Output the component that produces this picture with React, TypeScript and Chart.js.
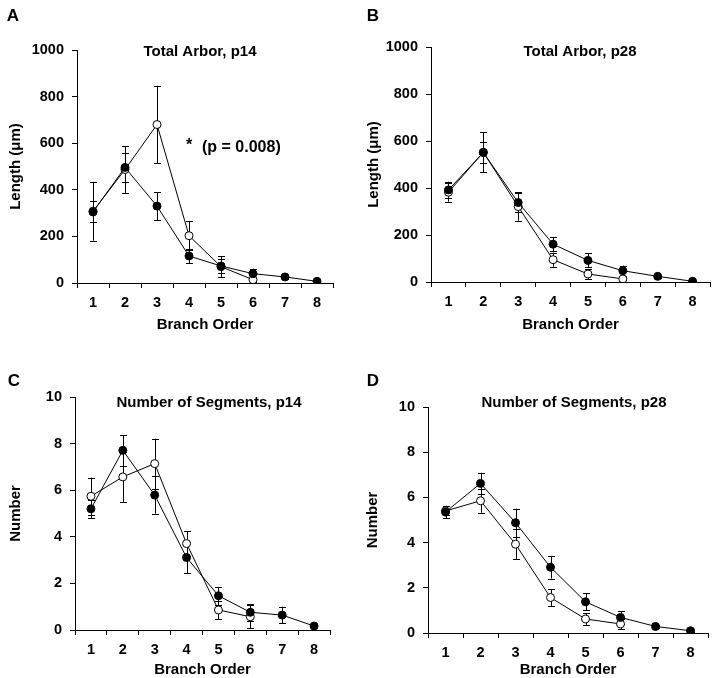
import React, { useEffect, useRef } from "react";
import { Chart, registerables } from "chart.js";
Chart.register(...registerables);

// ---------- data ----------
const branchOrders = ["1", "2", "3", "4", "5", "6", "7", "8"];

const arborP14Filled = [305, 496, 330, 116, 73, 40, 26, 7];
const arborP14FilledErr = [45, 63, 60, 32, 30, 22, 8, 3];
const arborP14Open = [308, 487, 680, 203, 70, 14, null, null];
const arborP14OpenErr = [126, 100, 167, 63, 45, 8, null, null];

const arborP28Filled = [392, 551, 338, 161, 92, 48, 24, 3];
const arborP28FilledErr = [35, 43, 40, 30, 30, 22, 6, 2];
const arborP28Open = [382, 552, 321, 95, 34, 13, null, null];
const arborP28OpenErr = [40, 86, 60, 30, 20, 6, null, null];

const segP14Filled = [5.2, 7.71, 5.79, 3.11, 1.47, 0.76, 0.64, 0.17];
const segP14FilledErr = [0.4, 0.65, 0.8, 0.68, 0.38, 0.36, 0.36, 0.05];
const segP14Open = [5.74, 6.57, 7.14, 3.71, 0.86, 0.57, null, null];
const segP14OpenErr = [0.8, 1.07, 1.07, 0.53, 0.39, 0.5, null, null];

const segP28Filled = [5.35, 6.62, 4.88, 2.91, 1.38, 0.69, 0.29, 0.1];
const segP28FilledErr = [0.28, 0.47, 0.62, 0.5, 0.38, 0.27, 0.08, 0.04];
const segP28Open = [5.4, 5.85, 3.93, 1.57, 0.62, 0.4, null, null];
const segP28OpenErr = [0.2, 0.53, 0.65, 0.37, 0.26, 0.22, null, null];

const FONT = "'Liberation Sans', Arial, Helvetica, sans-serif";

type Panel = {
  letter: string;
  title: string;
  yTitle: string;
  yMax: number;
  yStep: number;
  filled: (number | null)[];
  filledErr: (number | null)[];
  open: (number | null)[];
  openErr: (number | null)[];
  left: number;
  top: number;
  area: { L: number; R: number; T: number; B: number };
  yTitleX: number;
  xTitleY: number;
  titlePos: { x: number; y: number };
  letterPos: { x: number; y: number };
  note?: { text: string; xIndex: number; yValue: number };
};

const W = 360;
const H = 339;

const panels: Panel[] = [
  {
    letter: "A",
    title: "Total Arbor, p14",
    yTitle: "Length (\u03bcm)",
    yMax: 1000,
    yStep: 200,
    filled: arborP14Filled,
    filledErr: arborP14FilledErr,
    open: arborP14Open,
    openErr: arborP14OpenErr,
    left: 0,
    top: 0,
    area: { L: 77, R: 333, T: 50, B: 283 },
    yTitleX: 16,
    xTitleY: 325,
    titlePos: { x: 200, y: 52 },
    letterPos: { x: 13, y: 16 },
    note: { text: "(p = 0.008)", xIndex: 3, yValue: 580 },
  },
  {
    letter: "B",
    title: "Total Arbor, p28",
    yTitle: "Length (\u03bcm)",
    yMax: 1000,
    yStep: 200,
    filled: arborP28Filled,
    filledErr: arborP28FilledErr,
    open: arborP28Open,
    openErr: arborP28OpenErr,
    left: 360,
    top: 0,
    area: { L: 71, R: 350, T: 47, B: 282 },
    yTitleX: 14,
    xTitleY: 325,
    titlePos: { x: 220, y: 52 },
    letterPos: { x: 13, y: 16 },
  },
  {
    letter: "C",
    title: "Number of Segments, p14",
    yTitle: "Number",
    yMax: 10,
    yStep: 2,
    filled: segP14Filled,
    filledErr: segP14FilledErr,
    open: segP14Open,
    openErr: segP14OpenErr,
    left: 0,
    top: 339,
    area: { L: 75, R: 330, T: 58, B: 291 },
    yTitleX: 16,
    xTitleY: 331,
    titlePos: { x: 209, y: 64 },
    letterPos: { x: 14, y: 42 },
  },
  {
    letter: "D",
    title: "Number of Segments, p28",
    yTitle: "Number",
    yMax: 10,
    yStep: 2,
    filled: segP28Filled,
    filledErr: segP28FilledErr,
    open: segP28Open,
    openErr: segP28OpenErr,
    left: 360,
    top: 339,
    area: { L: 68, R: 348, T: 68, B: 294 },
    yTitleX: 13,
    xTitleY: 331,
    titlePos: { x: 214, y: 64 },
    letterPos: { x: 13, y: 42 },
  },
];

const TITLE_LH = 18; // 15px * 1.2

function PanelChart({ p }: { p: Panel }) {
  const ref = useRef<HTMLCanvasElement | null>(null);
  useEffect(() => {
    if (!ref.current) return;
    const { L, R, T, B } = p.area;
    const padLeft = p.yTitleX - TITLE_LH / 2;
    const yWidth = L - padLeft;
    const xBottom = p.xTitleY + TITLE_LH / 2;
    const xHeight = xBottom - B;
    const padBottom = H - xBottom;

    const errorBars = {
      id: "errorBars",
      beforeDatasetsDraw(chart: any) {
        const ctx = chart.ctx;
        const ys = chart.scales.y;
        const sets = [
          { idx: 0, err: p.filledErr },
          { idx: 1, err: p.openErr },
        ];
        ctx.save();
        ctx.strokeStyle = "#000";
        ctx.lineWidth = 1;
        sets.forEach(({ idx, err }) => {
          const meta = chart.getDatasetMeta(idx);
          const data = chart.data.datasets[idx].data as (number | null)[];
          meta.data.forEach((pt: any, i: number) => {
            const v = data[i];
            const e = err[i];
            if (v == null || e == null) return;
            const x = Math.round(pt.x) + 0.5;
            const yTop = ys.getPixelForValue(v + e);
            const yBot = ys.getPixelForValue(Math.max(0, v - e));
            ctx.beginPath();
            ctx.moveTo(x, yTop);
            ctx.lineTo(x, yBot);
            ctx.moveTo(x - 3.5, Math.round(yTop) + 0.5);
            ctx.lineTo(x + 3.5, Math.round(yTop) + 0.5);
            ctx.moveTo(x - 3.5, Math.round(yBot) + 0.5);
            ctx.lineTo(x + 3.5, Math.round(yBot) + 0.5);
            ctx.stroke();
          });
        });
        ctx.restore();
      },
    };

    const texts = {
      id: "panelTexts",
      afterDraw(chart: any) {
        const ctx = chart.ctx;
        ctx.save();
        ctx.fillStyle = "#000";
        ctx.textBaseline = "middle";
        ctx.textAlign = "center";
        ctx.font = `bold 15px ${FONT}`;
        ctx.fillText(p.title, p.titlePos.x, p.titlePos.y);
        ctx.font = `bold 17px ${FONT}`;
        ctx.fillText(p.letter, p.letterPos.x, p.letterPos.y);
        if (p.note) {
          const xs = chart.scales.x;
          const ys = chart.scales.y;
          const nx = xs.getPixelForValue(p.note.xIndex);
          const ny = ys.getPixelForValue(p.note.yValue);
          ctx.font = `bold 16px ${FONT}`;
          ctx.fillText("*", nx, ny - 2);
          ctx.textAlign = "left";
          ctx.fillText(p.note.text, nx + 13, ny);
        }
        ctx.restore();
      },
    };

    const chart = new Chart(ref.current, {
      type: "line",
      data: {
        labels: branchOrders,
        datasets: [
          {
            data: p.filled,
            borderColor: "#000",
            borderWidth: 1,
            backgroundColor: "#000",
            pointBackgroundColor: "#000",
            pointBorderColor: "#000",
            pointBorderWidth: 1,
            pointRadius: 4,
            tension: 0,
            spanGaps: false,
          },
          {
            data: p.open,
            borderColor: "#000",
            borderWidth: 1,
            backgroundColor: "#fff",
            pointBackgroundColor: "#fff",
            pointBorderColor: "#000",
            pointBorderWidth: 1,
            pointRadius: 4,
            tension: 0,
            spanGaps: false,
          },
        ],
      },
      options: {
        animation: false,
        responsive: false,
        maintainAspectRatio: false,
        events: [],
        layout: {
          padding: { left: padLeft, right: W - R, top: T, bottom: padBottom },
        },
        plugins: {
          legend: { display: false },
          tooltip: { enabled: false },
          title: { display: false },
        },
        scales: {
          x: {
            type: "category",
            offset: true,
            afterFit(scale: any) {
              scale.height = xHeight;
            },
            grid: {
              offset: true,
              drawOnChartArea: false,
              drawTicks: true,
              tickLength: 5,
              color: "#000",
            },
            border: { display: true, color: "#000", width: 1 },
            ticks: {
              color: "#000",
              padding: 6,
              font: { family: FONT, size: 14.5, weight: "bold" },
              maxRotation: 0,
              autoSkip: false,
            },
            title: {
              display: true,
              text: "Branch Order",
              color: "#000",
              padding: 0,
              font: { family: FONT, size: 15, weight: "bold", lineHeight: 1.2 },
            },
          },
          y: {
            min: 0,
            max: p.yMax,
            afterFit(scale: any) {
              scale.width = yWidth;
            },
            grid: {
              drawOnChartArea: false,
              drawTicks: true,
              tickLength: 5,
              color: "#000",
            },
            border: { display: true, color: "#000", width: 1 },
            ticks: {
              stepSize: p.yStep,
              color: "#000",
              padding: 8,
              font: { family: FONT, size: 14.5, weight: "bold" },
              callback: (v: any) => String(v),
            },
            title: {
              display: true,
              text: p.yTitle,
              color: "#000",
              padding: 0,
              font: { family: FONT, size: 15, weight: "bold", lineHeight: 1.2 },
            },
          },
        },
      } as any,
      plugins: [errorBars, texts],
    });
    return () => chart.destroy();
  }, [p]);

  return (
    <canvas
      ref={ref}
      width={W}
      height={H}
      style={{ position: "absolute", left: p.left, top: p.top, width: W, height: H }}
    />
  );
}

export default function App() {
  return (
    <div
      style={{
        position: "fixed",
        left: 0,
        top: 0,
        width: 720,
        height: 678,
        background: "#fff",
        overflow: "hidden",
      }}
    >
      {panels.map((p) => (
        <PanelChart key={p.letter} p={p} />
      ))}
    </div>
  );
}
